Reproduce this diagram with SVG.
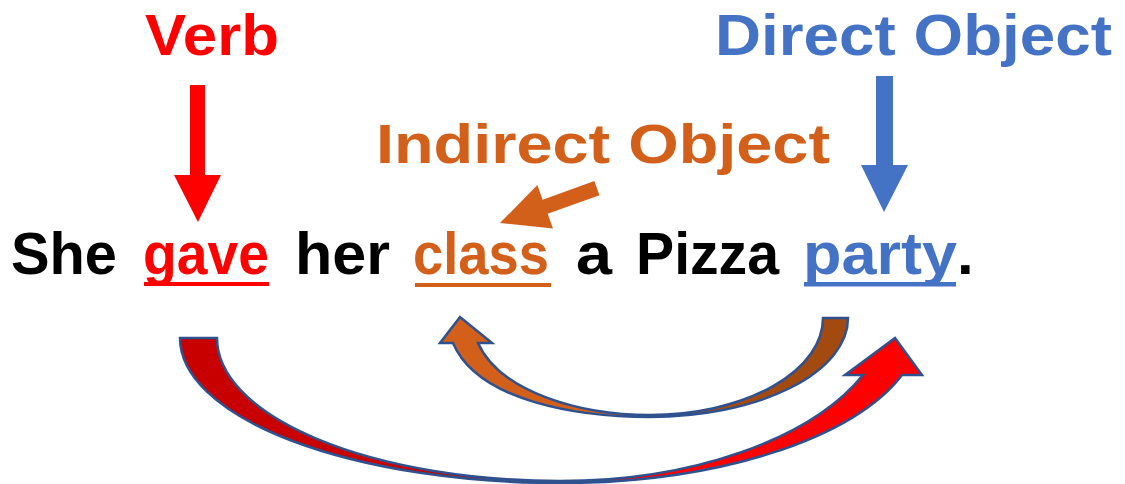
<svg xmlns="http://www.w3.org/2000/svg" width="1125" height="484" viewBox="0 0 1125 484">
  <defs>
    <style>
      .t { font-family: "Comic Sans MS", "Liberation Sans", Arial, sans-serif; font-weight: bold; }
      .s { font-size: 60px; }
      .blk { fill: #000000; }
      .red { fill: #FF0000; }
      .org { fill: #D2601A; }
      .blu { fill: #4472C4; }
      .curve { stroke: #2F528F; stroke-width: 2.5; stroke-linejoin: miter; }
    </style>
    <linearGradient id="gRed" gradientUnits="userSpaceOnUse" x1="180" y1="0" x2="922" y2="0">
      <stop offset="0" stop-color="#C80000"/>
      <stop offset="0.512" stop-color="#C80000"/>
      <stop offset="0.512" stop-color="#FF0000"/>
      <stop offset="1" stop-color="#FF0000"/>
    </linearGradient>
    <linearGradient id="gOrg" gradientUnits="userSpaceOnUse" x1="440" y1="0" x2="848" y2="0">
      <stop offset="0" stop-color="#D2601A"/>
      <stop offset="0.515" stop-color="#D2601A"/>
      <stop offset="0.515" stop-color="#A34A10"/>
      <stop offset="1" stop-color="#A34A10"/>
    </linearGradient>
  </defs>

  <g id="label-verb">
    <text class="t red" x="145" y="55" font-size="58" textLength="134" lengthAdjust="spacingAndGlyphs">Verb</text>
  </g>
  <g id="label-direct-object">
    <text class="t blu" x="715" y="55" font-size="58" textLength="397" lengthAdjust="spacingAndGlyphs">Direct Object</text>
  </g>
  <g id="label-indirect-object">
    <text class="t org" x="376" y="163" font-size="56" textLength="454" lengthAdjust="spacingAndGlyphs">Indirect Object</text>
  </g>

  <g id="sentence">
    <text class="t s blk" x="11" y="274" textLength="106" lengthAdjust="spacingAndGlyphs">She</text>
    <text class="t s red" x="143" y="274" textLength="126" lengthAdjust="spacingAndGlyphs">gave</text>
    <text class="t s blk" x="295" y="274" textLength="95" lengthAdjust="spacingAndGlyphs">her</text>
    <text class="t s org" x="413" y="274" textLength="136" lengthAdjust="spacingAndGlyphs">class</text>
    <text class="t s blk" x="576" y="274" textLength="36" lengthAdjust="spacingAndGlyphs">a</text>
    <text class="t s blk" x="636" y="274" textLength="143" lengthAdjust="spacingAndGlyphs">Pizza</text>
    <text class="t s blu" x="803" y="274" textLength="154" lengthAdjust="spacingAndGlyphs">party</text>
    <text class="t s blk" x="957" y="274">.</text>
    <rect class="red" x="144" y="282" width="125" height="4"/>
    <rect class="org" x="415" y="283" width="136" height="4"/>
    <rect class="blu" x="804" y="282" width="152" height="4.5"/>
  </g>

  <g id="connectors">
    <polygon id="arrow-verb" class="red" points="190,85 205,85 205,175 221,175 198,222 174,175 190,175"/>
    <polygon id="arrow-direct" class="blu" points="876,76 893,76 893,165 908,165 884,212 861,165 876,165"/>
    <polygon id="arrow-indirect" class="org" transform="translate(500,223) rotate(-19.8)" points="0,0 48,-23 48,-7.5 103,-7.5 103,7.5 48,7.5 48,23"/>
    <path id="curve-red" class="curve" fill="url(#gRed)" d="M180,338 A380,145 0 0 0 560,483 A360,157 0 0 0 902,375 L922,375 L895,338 L845,375 L863,375 A330,175.5 0 0 1 560,481 A343,143 0 0 1 217,338 Z"/>
    <path id="curve-orange" class="curve" fill="url(#gOrg)" d="M848,318 A198,99 0 0 1 650,417 C580,417 478,402 453,343 L440,343 L460,317 L492,343 L478,343 C500,392 580,415 650,415 A173,97 0 0 0 823,318 Z"/>
  </g>
</svg>
